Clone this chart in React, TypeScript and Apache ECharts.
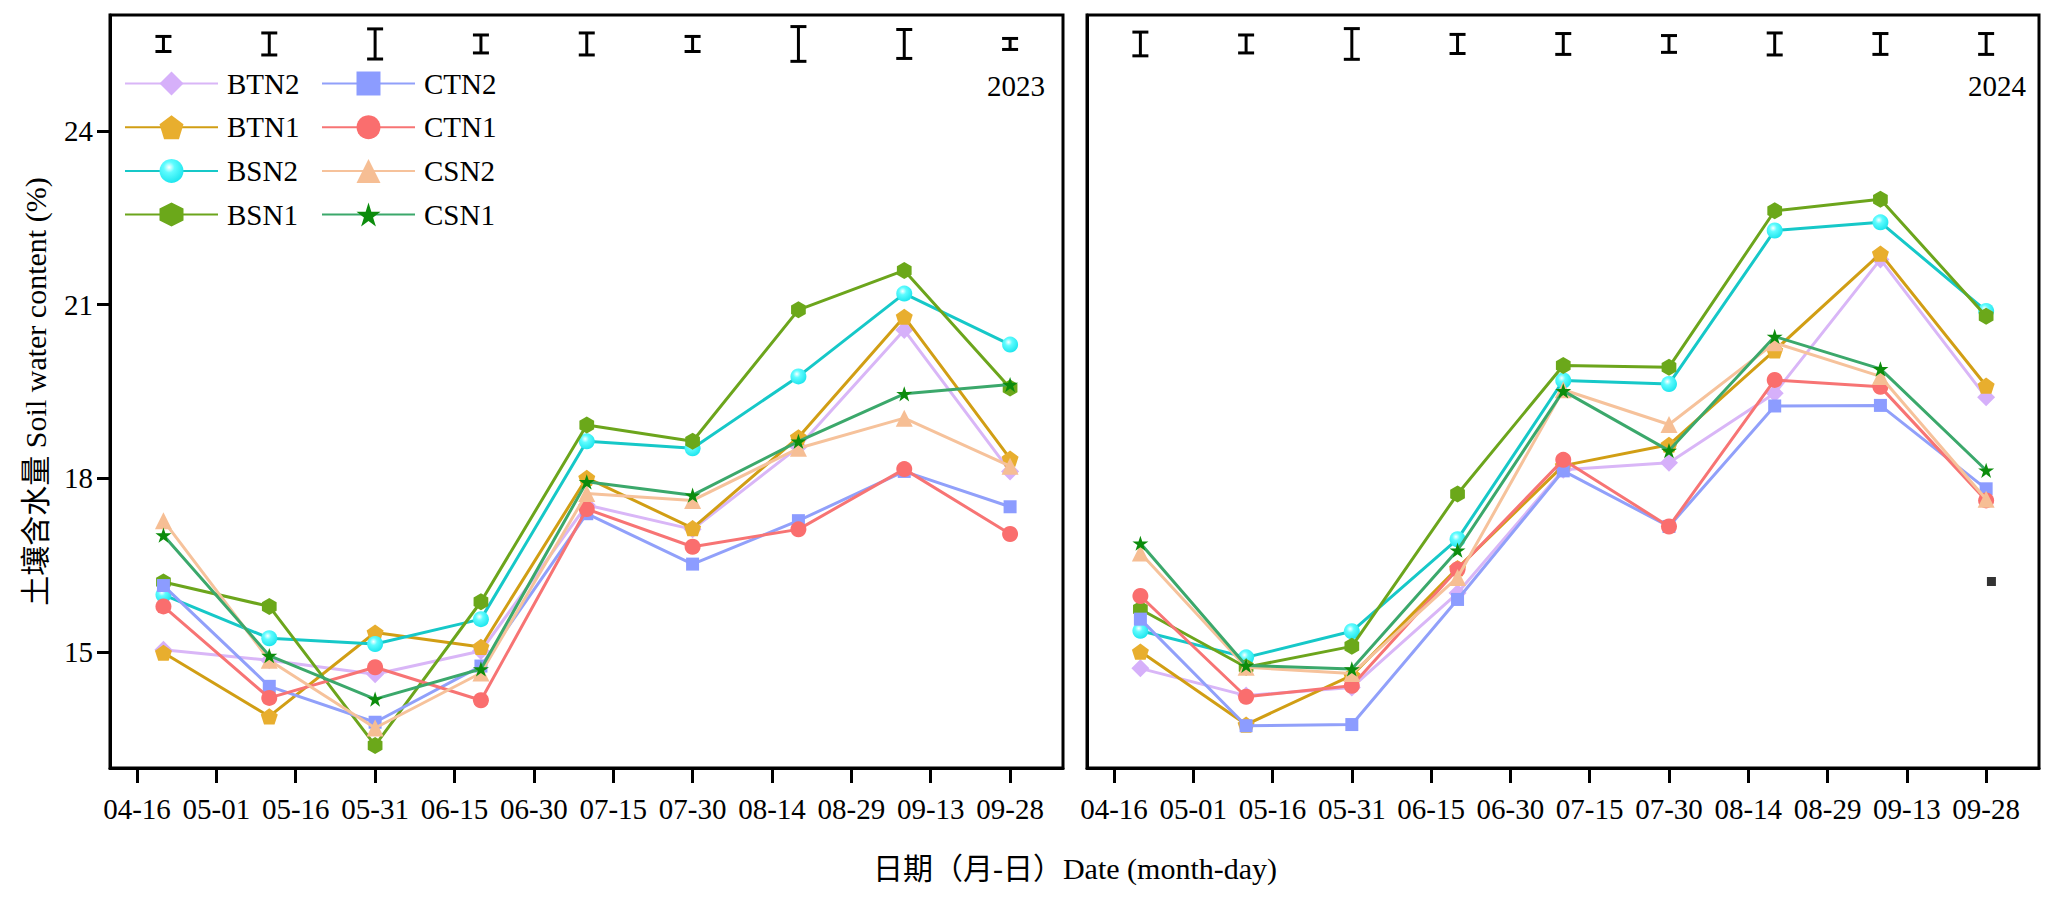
import React, { useEffect, useRef } from "react";
import * as echarts from "echarts";

// ---------- data ----------
const pointDates = ["04-21", "05-11", "05-31", "06-20", "07-10", "07-30", "08-19", "09-08", "09-28"];
const tickLabels = ["04-16", "05-01", "05-16", "05-31", "06-15", "06-30", "07-15", "07-30", "08-14", "08-29", "09-13", "09-28"];
const yTicks = [15, 18, 21, 24];

const seriesNames = ["BTN2", "BTN1", "BSN2", "BSN1", "CTN2", "CTN1", "CSN2", "CSN1"];

// 2023
const BTN2_2023 = [15.04, 14.86, 14.62, 15.02, 17.54, 17.12, 18.54, 20.56, 18.12];
const BTN1_2023 = [14.99, 13.89, 15.34, 15.09, 18.01, 17.14, 18.71, 20.79, 18.34];
const BSN2_2023 = [15.99, 15.24, 15.14, 15.57, 18.64, 18.52, 19.76, 21.19, 20.31];
const BSN1_2023 = [16.21, 15.79, 13.39, 15.87, 18.92, 18.64, 20.91, 21.59, 19.56];
const CTN2_2023 = [16.15, 14.41, 13.79, 14.76, 17.39, 16.52, 17.27, 18.12, 17.51];
const CTN1_2023 = [15.79, 14.21, 14.74, 14.17, 17.47, 16.82, 17.12, 18.16, 17.04];
const CSN2_2023 = [17.27, 14.86, 13.69, 14.64, 17.74, 17.62, 18.52, 19.04, 18.21];
const CSN1_2023 = [17.02, 14.94, 14.19, 14.71, 17.94, 17.71, 18.64, 19.46, 19.62];

// 2024
const BTN2_2024 = [14.72, 14.25, 14.39, 16.02, 18.15, 18.27, 19.47, 21.78, 19.4];
const BTN1_2024 = [15.01, 13.75, 14.6, 16.45, 18.22, 18.58, 20.21, 21.88, 19.6];
const BSN2_2024 = [15.37, 14.91, 15.36, 16.95, 19.69, 19.63, 22.28, 22.42, 20.89];
const BSN1_2024 = [15.74, 14.74, 15.1, 17.73, 19.95, 19.92, 22.62, 22.82, 20.8];
const CTN2_2024 = [15.57, 13.73, 13.75, 15.91, 18.13, 17.17, 19.25, 19.26, 17.82];
const CTN1_2024 = [15.97, 14.23, 14.42, 16.43, 18.32, 17.17, 19.7, 19.58, 17.62];
const CSN2_2024 = [16.71, 14.74, 14.63, 16.29, 19.53, 18.93, 20.34, 19.76, 17.64];
const CSN1_2024 = [16.88, 14.77, 14.71, 16.76, 19.51, 18.48, 20.45, 19.89, 18.14];

// error bars (full range, %), drawn at a fixed level near the top
const errCenter = 25.5;
const err2023 = [0.26, 0.38, 0.52, 0.31, 0.38, 0.26, 0.6, 0.5, 0.19];
const err2024 = [0.41, 0.31, 0.53, 0.33, 0.36, 0.29, 0.38, 0.36, 0.36];

// stray marker in 2024 panel
const strayDate2024 = ["09-29"];
const strayValue2024 = [16.22];

const data2023 = [BTN2_2023, BTN1_2023, BSN2_2023, BSN1_2023, CTN2_2023, CTN1_2023, CSN2_2023, CSN1_2023];
const data2024 = [BTN2_2024, BTN1_2024, BSN2_2024, BSN1_2024, CTN2_2024, CTN1_2024, CSN2_2024, CSN1_2024];

// ---------- styles ----------
const FONT = "'Liberation Serif', 'Times New Roman', 'Noto Sans CJK SC', serif";
const FS = 29;
const FS_TITLE = 30;

const PENTAGON = "path://M0,-1L0.951,-0.309L0.588,0.809L-0.588,0.809L-0.951,-0.309Z";
const HEXAGON = "path://M0,-1L0.866,-0.5L0.866,0.5L0,1L-0.866,0.5L-0.866,-0.5Z";
const STAR =
  "path://M0,-1L0.2245,-0.309L0.951,-0.309L0.363,0.118L0.588,0.809L0,0.382L-0.588,0.809L-0.363,0.118L-0.951,-0.309L-0.2245,-0.309Z";

const cyanFill = new echarts.graphic.RadialGradient(0.4, 0.35, 0.65, [
  { offset: 0, color: "#ffffff" },
  { offset: 0.35, color: "#5ffcff" },
  { offset: 1, color: "#1fe6ee" },
]);

const styles: any[] = [
  { line: "#D9B6F7", marker: "#D6B0FA", symbol: "diamond", size: 18 },
  { line: "#D19E14", marker: "#E8AE2E", symbol: PENTAGON, size: 17 },
  { line: "#16C8C8", marker: cyanFill, symbol: "circle", size: 16 },
  { line: "#6CA51C", marker: "#6BA81A", symbol: HEXAGON, size: 17 },
  { line: "#91A0FA", marker: "#8C9CFF", symbol: "rect", size: 13 },
  { line: "#F77474", marker: "#FA6E6E", symbol: "circle", size: 16 },
  { line: "#F6C29B", marker: "#F6BE94", symbol: "triangle", size: 17 },
  { line: "#3BA86B", marker: "#0C8C0C", symbol: STAR, size: 16 },
];

function dayOffset(md: string): number {
  const [m, d] = md.split("-").map(Number);
  return (Date.UTC(2023, m - 1, d) - Date.UTC(2023, 3, 16)) / 86400000;
}

const tickValues = tickLabels.map(dayOffset);
const xs = pointDates.map(dayOffset);

export default function App() {
  const ref = useRef<HTMLDivElement>(null);

  useEffect(() => {
    if (!ref.current) return;
    const chart = echarts.init(ref.current, undefined, { renderer: "svg" });

    const grids = [
      { left: 110, top: 15, width: 953, height: 753 },
      { left: 1087, top: 15, width: 952, height: 753 },
    ].map((g) => ({ ...g, show: true, borderColor: "#000", borderWidth: 3, backgroundColor: "transparent" }));

    const xAxisBase = (gi: number) => ({
      type: "value",
      gridIndex: gi,
      min: -5.1,
      max: 175,
      splitLine: { show: false },
      axisLine: { show: true, onZero: false, lineStyle: { color: "#000", width: 3 } },
      axisTick: { show: true, customValues: tickValues, length: 15, inside: false, lineStyle: { color: "#000", width: 3 } },
      axisLabel: {
        show: true,
        customValues: tickValues,
        margin: 26,
        color: "#000",
        fontFamily: FONT,
        fontSize: FS,
        formatter: (v: number) => {
          const i = tickValues.findIndex((t) => Math.abs(t - v) < 1e-6);
          return i >= 0 ? tickLabels[i] : "";
        },
      },
    });

    const yAxisBase = (gi: number, labels: boolean) => ({
      type: "value",
      gridIndex: gi,
      min: 13,
      max: 26,
      splitLine: { show: false },
      axisLine: { show: true, onZero: false, lineStyle: { color: "#000", width: 3 } },
      axisTick: { show: labels, customValues: yTicks, length: 13, lineStyle: { color: "#000", width: 3 } },
      axisLabel: {
        show: labels,
        customValues: yTicks,
        margin: 17,
        color: "#000",
        fontFamily: FONT,
        fontSize: FS,
      },
      ...(labels
        ? {
            name: "土壤含水量 Soil water content (%)",
            nameLocation: "middle",
            nameGap: 60,
            nameTextStyle: { color: "#000", fontFamily: FONT, fontSize: FS_TITLE },
          }
        : {}),
    });

    const lineSeries: any[] = [];
    [data2023, data2024].forEach((ds, gi) => {
      ds.forEach((vals, si) => {
        const st = styles[si];
        lineSeries.push({
          name: seriesNames[si],
          type: "line",
          xAxisIndex: gi,
          yAxisIndex: gi,
          data: xs.map((x, k) => [x, vals[k]]),
          symbol: st.symbol,
          symbolSize: st.size,
          symbolKeepAspect: true,
          showAllSymbol: true,
          lineStyle: { color: st.line, width: 3 },
          itemStyle: { color: st.marker, borderWidth: 0 },
          emphasis: { disabled: true },
          z: 2 + si * 0.01,
        });
      });
    });

    const errRender = (params: any, api: any) => {
      const x = api.value(0);
      const c = api.value(1);
      const e = api.value(2);
      const top = api.coord([x, c + e / 2]);
      const bot = api.coord([x, c - e / 2]);
      const hw = 8;
      const style = { stroke: "#000", lineWidth: 3, fill: "none" };
      return {
        type: "group",
        children: [
          { type: "line", shape: { x1: top[0], y1: top[1], x2: bot[0], y2: bot[1] }, style },
          { type: "line", shape: { x1: top[0] - hw, y1: top[1], x2: top[0] + hw, y2: top[1] }, style },
          { type: "line", shape: { x1: bot[0] - hw, y1: bot[1], x2: bot[0] + hw, y2: bot[1] }, style },
        ],
      };
    };

    const errSeries = [err2023, err2024].map((errs, gi) => ({
      type: "custom",
      name: "err" + gi,
      xAxisIndex: gi,
      yAxisIndex: gi,
      renderItem: errRender,
      encode: { x: 0, y: 1 },
      data: xs.map((x, k) => [x, errCenter, errs[k]]),
      clip: false,
      z: 3,
    }));

    const straySeries = {
      type: "scatter",
      name: "stray",
      xAxisIndex: 1,
      yAxisIndex: 1,
      data: strayDate2024.map((d, k) => [dayOffset(d), strayValue2024[k]]),
      symbol: "rect",
      symbolSize: 9,
      itemStyle: { color: "#000" },
      z: 3,
    };

    const legendBase = {
      orient: "vertical",
      itemWidth: 93,
      itemHeight: 30,
      itemGap: 14.7,
      padding: 0,
      selectedMode: false,
      textStyle: { color: "#000", fontFamily: FONT, fontSize: FS, padding: [0, 0, 0, 4] },
    };

    chart.setOption({
      animation: false,
      backgroundColor: "#fff",
      grid: grids,
      xAxis: [xAxisBase(0), xAxisBase(1)],
      yAxis: [yAxisBase(0, true), yAxisBase(1, false)],
      legend: [
        { ...legendBase, left: 124, top: 69, data: seriesNames.slice(0, 4) },
        { ...legendBase, left: 321, top: 69, data: seriesNames.slice(4) },
      ],
      graphic: [
        {
          type: "text",
          right: 2064 - 1045,
          top: 87 - 16,
          style: { text: "2023", fill: "#000", font: `${FS}px ${FONT}` },
        },
        {
          type: "text",
          right: 2064 - 2026,
          top: 87 - 16,
          style: { text: "2024", fill: "#000", font: `${FS}px ${FONT}` },
        },
        {
          type: "text",
          x: 1075,
          y: 868,
          style: {
            text: "日期（月-日）Date (month-day)",
            fill: "#000",
            font: `${FS_TITLE}px ${FONT}`,
            textAlign: "center",
            textVerticalAlign: "middle",
          },
        },
      ],
      series: [...lineSeries, ...errSeries, straySeries],
    });

    return () => chart.dispose();
  }, []);

  return (
    <div
      ref={ref}
      style={{ position: "absolute", left: 0, top: 0, width: 2064, height: 910, background: "#fff" }}
    />
  );
}
